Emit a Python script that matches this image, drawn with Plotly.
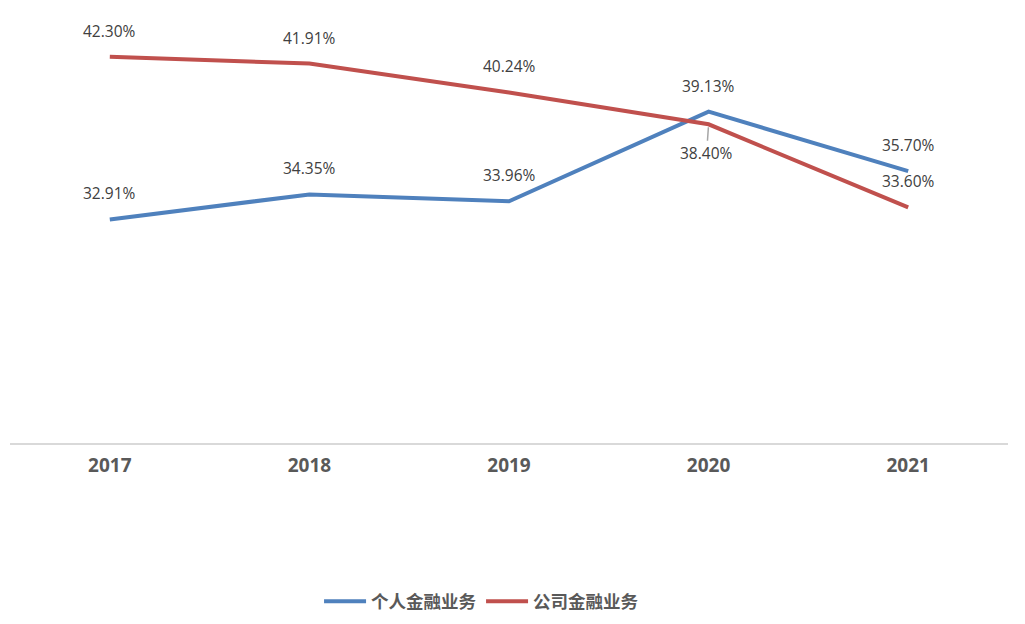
import plotly.graph_objects as go

years = ["2017", "2018", "2019", "2020", "2021"]
personal = [32.91, 34.35, 33.96, 39.13, 35.70]
corporate = [42.30, 41.91, 40.24, 38.40, 33.60]
series_names = ["个人金融业务", "公司金融业务"]
colors = ["#4F81BD", "#C0504D"]

FONT = "Open Sans, Noto Sans CJK SC, sans-serif"
LABEL_SIZE = 15.5

fig = go.Figure()
for name, vals, col in zip(series_names, [personal, corporate], colors):
    fig.add_trace(go.Scatter(
        x=years, y=vals, mode="lines", name=name,
        line=dict(color=col, width=4), hoverinfo="skip",
    ))

annotations = []
for vals, series in [(personal, "p"), (corporate, "c")]:
    for i, v in enumerate(vals):
        below = (series == "c" and years[i] == "2020")
        if below:
            annotations.append(dict(
                x=i, y=v, xref="x", yref="y", text=f"{v:.2f}%",
                showarrow=True, arrowhead=0, arrowwidth=1.5, arrowcolor="#A6A6A6",
                ax=-2, ay=29, standoff=3,
                font=dict(family=FONT, size=LABEL_SIZE, color="#404040"),
            ))
        else:
            annotations.append(dict(
                x=i, y=v, xref="x", yref="y", text=f"{v:.2f}%",
                showarrow=False, yshift=26,
                font=dict(family=FONT, size=LABEL_SIZE, color="#404040"),
            ))

fig.update_layout(
    width=1025, height=624,
    margin=dict(l=2, r=25, t=2, b=189),
    paper_bgcolor="white", plot_bgcolor="white",
    font=dict(family=FONT),
    xaxis=dict(
        type="category", range=[-0.5, 4.5], showgrid=False, zeroline=False,
        showline=True, linecolor="#D9D9D9", linewidth=2,
        ticks="", tickfont=dict(family=FONT, size=19, color="#595959", weight="bold"),
        ticklabelstandoff=4,
    ),
    yaxis=dict(range=[20, 45], visible=False, showgrid=False, zeroline=False),
    legend=dict(
        orientation="h", x=0.472, xanchor="center", y=-0.366, yanchor="middle",
        font=dict(family=FONT, size=17.5, color="#595959", weight="bold"),
        itemwidth=42, traceorder="normal",
    ),
    annotations=annotations,
    showlegend=True,
)

fig.write_html("out.html")
